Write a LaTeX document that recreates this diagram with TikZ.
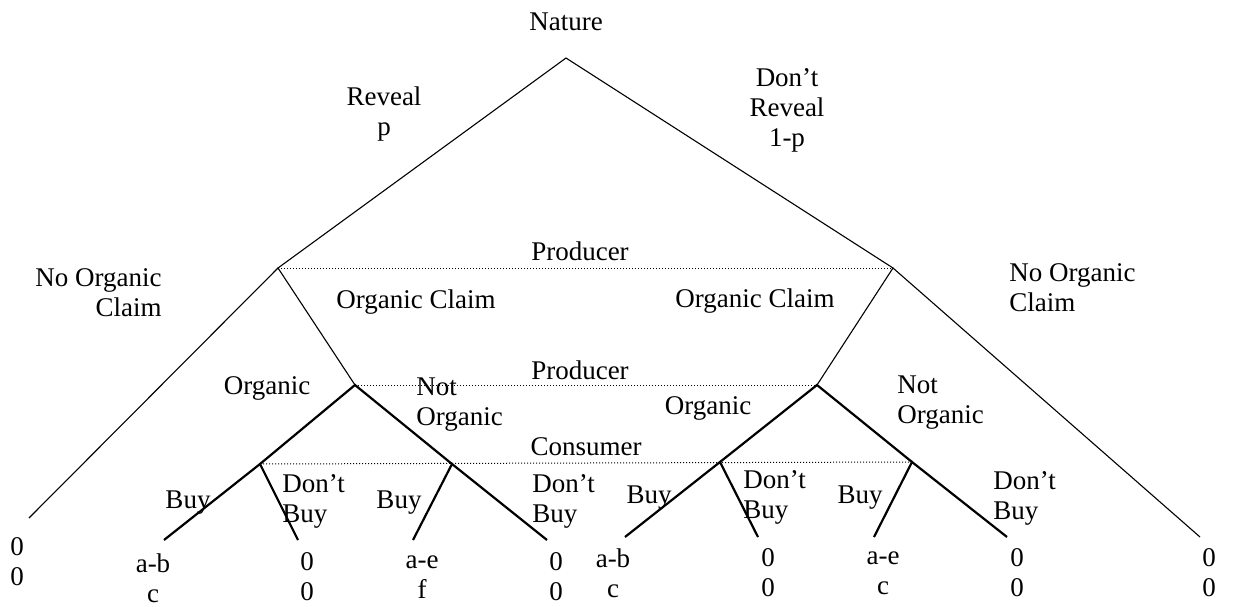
\documentclass[tikz,border=0pt]{standalone}
\usepackage{fontspec}
\setmainfont{Liberation Serif}

\begin{document}
\begin{tikzpicture}[x=0.5pt, y=-0.5pt, font=\fontsize{13.5}{15}\selectfont,
    branch/.style={line width=0.55pt}, move/.style={line width=1.1pt},
    infoset/.style={densely dotted, line width=0.5pt},
    lbl/.style={inner sep=0pt, align=center}, pay/.style={inner sep=0pt, align=center}]

    \useasboundingbox (0,0) rectangle (1233,606);

    \coordinate (nat) at (566,58);
    \coordinate (p1) at (278,268);
    \coordinate (p2) at (893,268);
    \coordinate (c1) at (355,385);
    \coordinate (c2) at (817,385);
    \coordinate (d1) at (260,464);
    \coordinate (d2) at (452,464);
    \coordinate (d3) at (720,462);
    \coordinate (d4) at (912,462);

    \coordinate (e0) at (29,518);
    \coordinate (e1) at (164,540);
    \coordinate (e2) at (298,540);
    \coordinate (e3) at (413,540);
    \coordinate (e4) at (547,540);
    \coordinate (e5) at (625,537);
    \coordinate (e6) at (758,537);
    \coordinate (e7) at (874,537);
    \coordinate (e8) at (1007,537);
    \coordinate (e9) at (1200,537);

    \node[lbl] (nature) at (566,22) {Nature};
    \node[lbl] (reveal) at (384,114) {Reveal\\p};
    \node[lbl] (noreveal) at (787,110) {Don't\\Reveal\\1-p};
    \node[lbl] (prodA) at (580,251) {Producer};
    \node[lbl, anchor=east, align=right] (nocl) at (162,293) {No Organic\\Claim};
    \node[lbl, anchor=west, align=left] (nocr) at (1009,288) {No Organic\\Claim};
    \node[lbl] (ocl) at (416,302) {Organic Claim};
    \node[lbl] (ocr) at (755,301) {Organic Claim};
    \node[lbl] (prodB) at (580,370) {Producer};
    \node[lbl] (orgl) at (267,388) {Organic};
    \node[lbl, anchor=west, align=left] (notl) at (416,405) {Not\\Organic};
    \node[lbl] (orgr) at (708,408) {Organic};
    \node[lbl, anchor=west, align=left] (notr) at (897,403) {Not\\Organic};
    \node[lbl] (cons) at (586,447) {Consumer};

    \node[lbl] (buy1) at (188,503) {Buy};
    \node[lbl, anchor=west, align=left] (dont1) at (282,501) {Don't\\Buy};
    \node[lbl] (buy2) at (399,503) {Buy};
    \node[lbl, anchor=west, align=left] (dont2) at (532,501) {Don't\\Buy};
    \node[lbl] (buy3) at (649,498) {Buy};
    \node[lbl, anchor=west, align=left] (dont3) at (743,497) {Don't\\Buy};
    \node[lbl] (buy4) at (860,498) {Buy};
    \node[lbl, anchor=west, align=left] (dont4) at (993,498) {Don't\\Buy};

    \node[pay] (u0) at (17,562) {0\\0};
    \node[pay] (u1) at (153,578) {a-b\\c};
    \node[pay] (u2) at (307,577) {0\\0};
    \node[pay] (u3) at (422,577) {a-e\\f};
    \node[pay] (u4) at (556,577) {0\\0};
    \node[pay] (u5) at (613,573) {a-b\\c};
    \node[pay] (u6) at (768,573) {0\\0};
    \node[pay] (u7) at (883,573) {a-e\\c};
    \node[pay] (u8) at (1017,573) {0\\0};
    \node[pay] (u9) at (1209,573) {0\\0};

    \draw[branch] (p1) -- (nat) -- (p2);
    \draw[branch] (e0) -- (p1) -- (c1);
    \draw[branch] (e9) -- (p2) -- (c2);
    \draw[move] (d1) -- (c1) -- (d2);
    \draw[move] (d3) -- (c2) -- (d4);
    \draw[move] (e1) -- (d1) -- (e2);
    \draw[move] (e3) -- (d2) -- (e4);
    \draw[move] (e5) -- (d3) -- (e6);
    \draw[move] (e7) -- (d4) -- (e8);

    \draw[infoset] (p1) -- (p2);
    \draw[infoset] (c1) -- (c2);
    \draw[infoset] (d1) -- (d4);

  \end{tikzpicture}
\end{document}
